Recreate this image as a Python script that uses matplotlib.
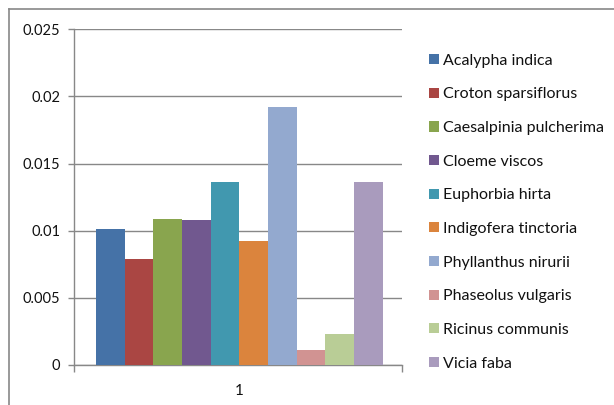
import matplotlib
matplotlib.use("Agg")
import matplotlib.pyplot as plt
from matplotlib.patches import Patch
from matplotlib.lines import Line2D
import numpy as np

species = ["Acalypha indica", "Croton sparsiflorus", "Caesalpinia pulcherima",
           "Cloeme viscos", "Euphorbia hirta", "Indigofera tinctoria",
           "Phyllanthus nirurii", "Phaseolus vulgaris", "Ricinus communis",
           "Vicia faba"]
values = [0.0101, 0.0079, 0.0109, 0.0108, 0.0136, 0.0092, 0.0192, 0.0011, 0.0023, 0.0136]
colors = ["#4572A7", "#AA4643", "#89A54E", "#71588F", "#4198AF",
          "#DB843D", "#93A9CF", "#D19392", "#B9CD96", "#A99BBD"]
category_labels = ["1"]
yticks = [0, 0.005, 0.01, 0.015, 0.02, 0.025]
ytick_labels = ["0", "0.005", "0.01", "0.015", "0.02", "0.025"]

plt.rcParams['font.family'] = ['Lato', 'DejaVu Sans']

W, H = 614, 405
fig = plt.figure(figsize=(W / 100, H / 100), dpi=100)
fig.patch.set_facecolor("white")
fig.patch.set_edgecolor("white")
fig.patch.set_linewidth(0)

left, right, top, bottom = 74, 402, 29.3, 365
ax = fig.add_axes([left / W, (H - bottom) / H, (right - left) / W, (bottom - top) / H])
ax.set_facecolor("none")

x = np.arange(len(values))
for xi, v, c, name in zip(x, values, colors, species):
    ax.bar(xi, v, width=1.0, color=c, label=name, zorder=3)

ax.set_xlim(-1.27, len(values) - 1 + 1.18)
ax.set_ylim(0, 0.025)
ax.set_yticks(yticks)
ax.set_yticklabels(ytick_labels)
ax.yaxis.grid(True, color="#888888", linewidth=1, zorder=0)
ax.set_axisbelow(True)

ax.set_xticks([(len(values) - 1) / 2])
ax.set_xticklabels(category_labels)
ax.set_xticks([-1.27, len(values) - 1 + 1.18], minor=True)
ax.tick_params(axis="x", which="major", length=0, pad=14, labelsize=11, colors="#111111")
ax.tick_params(axis="x", which="minor", length=5, width=1, color="#888888", direction="out")
ax.tick_params(axis="y", length=4, width=1, color="#888888", pad=6, labelsize=10.5, labelcolor="#111111")

for s in ["top", "right"]:
    ax.spines[s].set_visible(False)
for s in ["left", "bottom"]:
    ax.spines[s].set_color("#888888")
    ax.spines[s].set_linewidth(1)

handles = [Patch(facecolor=c, edgecolor="none") for c in colors]
leg = fig.legend(handles, species, loc="upper left",
                 bbox_to_anchor=(429 / W, 1 - 53.8 / H),
                 frameon=False, fontsize=11.5, handlelength=0.6, handleheight=0.6,
                 handletextpad=0.3, labelspacing=1.23, borderaxespad=0, borderpad=0)
for t in leg.get_texts():
    t.set_color("#111111")

# outer chart border (left and top edges only visible)
bx, by = 8.8 / W, 1 - 9 / H
fig.add_artist(Line2D([bx, bx], [0, by], transform=fig.transFigure,
                      color="#888888", linewidth=1.2))
fig.add_artist(Line2D([bx, 1], [by, by], transform=fig.transFigure,
                      color="#888888", linewidth=1.2))

fig.savefig("out.png", dpi=100)
